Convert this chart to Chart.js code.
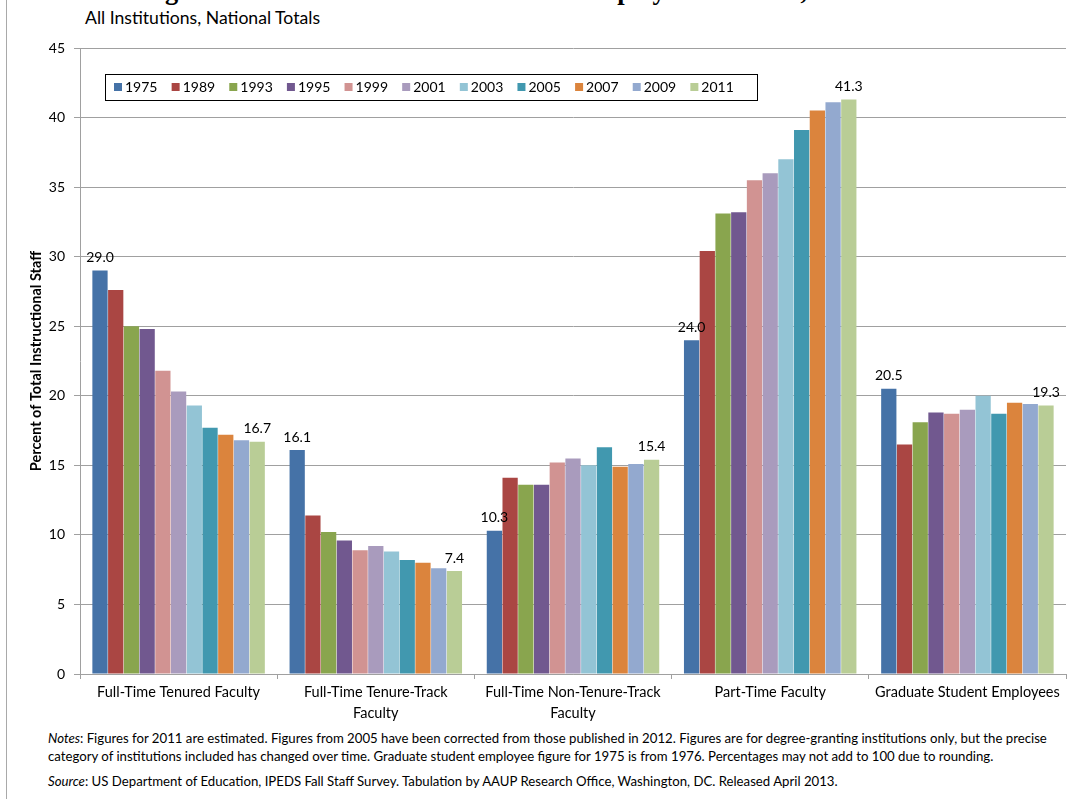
<!DOCTYPE html>
<html>
<head>
<meta charset="utf-8">
<title>Trends in Instructional Staff Employment Status, 1975-2011</title>
<script src="https://cdn.jsdelivr.net/npm/chart.js@4.4.1/dist/chart.umd.min.js"></script>
<style>
  html, body { margin: 0; padding: 0; background: #fff; }
  #page { position: relative; width: 1073px; height: 799px; overflow: hidden;
          font-family: Lato, "Open Sans", "Noto Sans", sans-serif; color: #000; }
  #frame { position: absolute; left: 6px; top: 0; width: 1px; height: 799px; background: #a9a9a9; }
  #title { position: absolute; left: 0; top: -23px; width: 1073px; text-align: center;
           font: bold 26.5px/1 "Liberation Serif", "DejaVu Serif", serif; white-space: nowrap; }
  #subtitle { position: absolute; left: 85px; top: 8px; font-size: 15px; line-height: 20px; white-space: nowrap; }
  #wrap { position: absolute; left: 0; top: 0; width: 1073px; height: 730px; }
  .note { position: absolute; left: 48px; font-size: 11px; line-height: 14px; white-space: nowrap; }
</style>
</head>
<body>
<div id="page">
  <div id="frame"></div>
  <div id="title">Figure 1. Trends in Instructional Staff Employment Status, 1975–2011</div>
  <div id="subtitle">All Institutions, National Totals</div>
  <div id="wrap"><canvas id="chart"></canvas></div>
  <div class="note" id="note1" style="top:731px"><i>Notes</i>: Figures for 2011 are estimated. Figures from 2005 have been corrected from those published in 2012. Figures are for degree-granting institutions only, but the precise</div>
  <div class="note" id="note2" style="top:749px">category of institutions included has changed over time. Graduate student employee figure for 1975 is from 1976. Percentages may not add to 100 due to rounding.</div>
  <div class="note" id="note3" style="top:774px"><i>Source</i>: US Department of Education, IPEDS Fall Staff Survey. Tabulation by AAUP Research Office, Washington, DC. Released April 2013.</div>
</div>
<script>
// Staff categories (x axis), multi-line where the label wraps
const categories = [
  ["Full-Time Tenured Faculty"],
  ["Full-Time Tenure-Track", "Faculty"],
  ["Full-Time Non-Tenure-Track", "Faculty"],
  ["Part-Time Faculty"],
  ["Graduate Student Employees"]
];

// Survey years (one series each)
const years = ["1975", "1989", "1993", "1995", "1999", "2001", "2003", "2005", "2007", "2009", "2011"];

// Percent of total instructional staff, per year, in category order
const pct1975 = [29.0, 16.1, 10.3, 24.0, 20.5];
const pct1989 = [27.6, 11.4, 14.1, 30.4, 16.5];
const pct1993 = [25.0, 10.2, 13.6, 33.1, 18.1];
const pct1995 = [24.8,  9.6, 13.6, 33.2, 18.8];
const pct1999 = [21.8,  8.9, 15.2, 35.5, 18.7];
const pct2001 = [20.3,  9.2, 15.5, 36.0, 19.0];
const pct2003 = [19.3,  8.8, 15.0, 37.0, 20.0];
const pct2005 = [17.7,  8.2, 16.3, 39.1, 18.7];
const pct2007 = [17.2,  8.0, 14.9, 40.5, 19.5];
const pct2009 = [16.8,  7.6, 15.1, 41.1, 19.4];
const pct2011 = [16.7,  7.4, 15.4, 41.3, 19.3];

const seriesValues = [pct1975, pct1989, pct1993, pct1995, pct1999, pct2001,
                      pct2003, pct2005, pct2007, pct2009, pct2011];

// Y axis tick values
const yTicks = [0, 5, 10, 15, 20, 25, 30, 35, 40, 45];

const seriesColors = ["#4572A7", "#AA4643", "#89A54E", "#71588F", "#D19392", "#A99BBD",
                      "#93C4D5", "#4198AF", "#DB843D", "#93A9CF", "#B9CD96"];

const FONT = "Lato, 'Open Sans', 'Noto Sans', sans-serif";

// Boxed single-row legend drawn inside the plot area
const boxedLegend = {
  id: "boxedLegend",
  afterDraw(chart, args, opts) {
    const ctx = chart.ctx;
    const { left, top, width, height } = opts.box;
    ctx.save();
    ctx.fillStyle = "#fff";
    ctx.fillRect(left, top, width, height);
    ctx.strokeStyle = "#000";
    ctx.lineWidth = 1;
    ctx.strokeRect(left + 0.5, top + 0.5, width, height);
    const n = chart.data.datasets.length;
    const step = (width - opts.inset * 2) / n;
    const cy = top + height / 2;
    ctx.font = opts.fontSize + "px " + FONT;
    ctx.textBaseline = "middle";
    ctx.textAlign = "left";
    chart.data.datasets.forEach((ds, i) => {
      const x = left + opts.inset + i * step;
      ctx.fillStyle = ds.backgroundColor;
      ctx.fillRect(x, cy - opts.swatch / 2, opts.swatch, opts.swatch);
      ctx.fillStyle = "#000";
      ctx.fillText(ds.label, x + opts.swatch + 3, cy + 0.5);
    });
    ctx.restore();
  }
};

// Value labels on the first and last year of each category
const endLabels = {
  id: "endLabels",
  afterDatasetsDraw(chart, args, opts) {
    const ctx = chart.ctx;
    const last = chart.data.datasets.length - 1;
    ctx.save();
    ctx.font = opts.fontSize + "px " + FONT;
    ctx.fillStyle = "#000";
    ctx.textAlign = "center";
    ctx.textBaseline = "bottom";
    [0, last].forEach(di => {
      const meta = chart.getDatasetMeta(di);
      meta.data.forEach((bar, j) => {
        const v = chart.data.datasets[di].data[j];
        ctx.fillText(v.toFixed(1), bar.x, bar.y - opts.gap);
      });
    });
    ctx.restore();
  }
};

new Chart(document.getElementById("chart"), {
  type: "bar",
  data: {
    labels: categories,
    datasets: years.map((yr, i) => ({
      label: yr,
      data: seriesValues[i],
      backgroundColor: seriesColors[i],
      borderWidth: 0,
      barPercentage: 0.97,
      categoryPercentage: 0.877
    }))
  },
  options: {
    responsive: true,
    maintainAspectRatio: false,
    animation: false,
    devicePixelRatio: 1,
    layout: { padding: { top: 48, left: 8, right: 7, bottom: 0 } },
    plugins: {
      legend: { display: false },
      tooltip: { enabled: false },
      boxedLegend: { box: { left: 105, top: 74, width: 652, height: 26 }, inset: 9, swatch: 8, fontSize: 14 },
      endLabels: { fontSize: 14, gap: 6 }
    },
    scales: {
      x: {
        grid: { drawOnChartArea: false, drawTicks: true, tickLength: 5, color: "#a0a0a0" },
        border: { color: "#a0a0a0" },
        ticks: {
          color: "#000", font: { family: FONT, size: 14.5, lineHeight: 1.45 },
          maxRotation: 0, autoSkip: false, padding: 3
        },
        afterFit(s) { s.height = 56; }
      },
      y: {
        min: 0, max: 45,
        afterBuildTicks(s) { s.ticks = yTicks.map(v => ({ value: v })); },
        grid: { color: "#a0a0a0", tickLength: 6 },
        border: { color: "#a0a0a0" },
        ticks: { color: "#000", font: { family: FONT, size: 14 }, padding: 9 },
        title: {
          display: true, text: "Percent of Total Instructional Staff",
          color: "#000", font: { family: FONT, size: 14.5, weight: "bold" },
          padding: { top: 20, bottom: 0 }
        },
        afterFit(s) { s.width = 72; }
      }
    }
  },
  plugins: [boxedLegend, endLabels]
});

// Size the footnote text so the first line spans the printed width
(function fitNotes() {
  const target = 1000;
  const first = document.getElementById("note1");
  const w = first.getBoundingClientRect().width;
  const size = 11 * target / w;
  ["note1", "note2", "note3"].forEach(id => {
    document.getElementById(id).style.fontSize = size.toFixed(2) + "px";
  });
  const sub = document.getElementById("subtitle");
  const sw = sub.getBoundingClientRect().width;
  sub.style.fontSize = (15 * 235 / sw).toFixed(2) + "px";
})();
</script>
</body>
</html>
